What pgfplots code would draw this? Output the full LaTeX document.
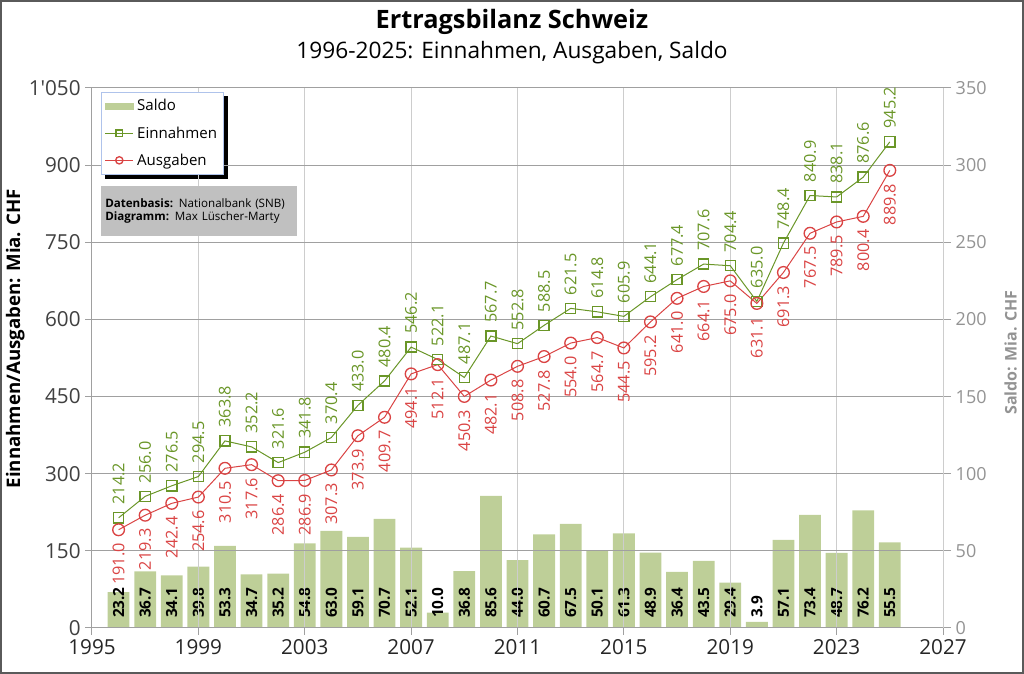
\documentclass[border=0pt]{standalone}
\usepackage{fontspec}
\setmainfont{Open Sans}
\usepackage{pgfplots}
\pgfplotsset{compat=1.18}
\usepackage{pgfplotstable}
\usetikzlibrary{backgrounds}
\definecolor{einc}{RGB}{106,150,40}
\definecolor{ausc}{RGB}{218,68,68}
\definecolor{barc}{RGB}{190,207,152}
\definecolor{gridh}{RGB}{160,160,160}
\definecolor{gridv}{RGB}{205,205,205}
\definecolor{infoc}{RGB}{192,192,192}
\definecolor{legb}{RGB}{175,195,235}
\definecolor{framec}{RGB}{90,90,90}
\newcommand{\fs}[1]{\fontsize{#1}{#1}\selectfont}
\pgfplotstableread{
year ein aus saldo
1996 214.2 191.0 23.2
1997 256.0 219.3 36.7
1998 276.5 242.4 34.1
1999 294.5 254.6 39.8
2000 363.8 310.5 53.3
2001 352.2 317.6 34.7
2002 321.6 286.4 35.2
2003 341.8 286.9 54.8
2004 370.4 307.3 63.0
2005 433.0 373.9 59.1
2006 480.4 409.7 70.7
2007 546.2 494.1 52.1
2008 522.1 512.1 10.0
2009 487.1 450.3 36.8
2010 567.7 482.1 85.6
2011 552.8 508.8 44.0
2012 588.5 527.8 60.7
2013 621.5 554.0 67.5
2014 614.8 564.7 50.1
2015 605.9 544.5 61.3
2016 644.1 595.2 48.9
2017 677.4 641.0 36.4
2018 707.6 664.1 43.5
2019 704.4 675.0 29.4
2020 635.0 631.1 3.9
2021 748.4 691.3 57.1
2022 840.9 767.5 73.4
2023 838.1 789.5 48.7
2024 876.6 800.4 76.2
2025 945.2 889.8 55.5
}\datatable
\pgfplotsset{
  lineleg/.style={legend image code/.code={%
    \draw[mark repeat=2,mark phase=2,##1, every mark/.append style={scale=0.62}]
      plot coordinates {(0cm,0cm) (0.37cm,0cm) (0.74cm,0cm)};}},
}
\begin{document}
\begin{tikzpicture}
\useasboundingbox (0,0) rectangle (768pt,505.5pt);
\draw[framec, line width=1.2pt] (0.75pt,0.75pt) rectangle (767.25pt,504.75pt);
% Saldo axis (right)
\begin{axis}[
  at={(69pt,34.5pt)}, anchor=south west, scale only axis,
  width=638.25pt, height=405pt,
  xmin=1995, xmax=2027, ymin=0, ymax=350,
  axis x line=none, axis y line*=right,
  ytick={0,50,...,350},
  y axis line style={draw=gridh, line width=0.75pt, -},
  ytick style={draw=gridh, line width=0.75pt},
  tick align=outside, major tick length=6pt,
  yticklabel style={font=\fs{13.5}, text=gray!85},
  /pgf/number format/assume math mode=true,
  clip=false,
]
\addplot[ybar, bar width=0.82, fill=barc, draw=none] table[x=year,y=saldo]{\datatable};
\addplot[draw=none, mark=none,
  nodes near coords={\pgfmathprintnumber[fixed,fixed zerofill,precision=1,assume math mode=true]{\pgfplotspointmeta}},
  point meta=explicit,
  every node near coord/.append style={rotate=90, anchor=west, text=black, font=\fs{11.5}\bfseries, outer xsep=6.5pt, inner sep=1pt}]
  table[x=year, y expr=0, meta=saldo]{\datatable};
\end{axis}
% Main axis (left)
\begin{axis}[
  at={(69pt,34.5pt)}, anchor=south west, scale only axis,
  width=638.25pt, height=405pt,
  xmin=1995, xmax=2027, ymin=0, ymax=1050,
  axis x line*=bottom, axis y line*=left,
  xtick={1995,1999,...,2027}, ytick={0,150,...,1050},
  xmajorgrids, ymajorgrids,
  x grid style={gridv, line width=0.75pt},
  y grid style={gridh, line width=0.75pt},
  axis line style={draw=gridh, line width=0.75pt, -},
  tick style={draw=gridh, line width=0.75pt},
  tick align=outside, major tick length=5pt,
  yticklabel style={font=\fs{15.5}, text=black!75, /pgf/number format/1000 sep={\textquotesingle}},
  xticklabel style={font=\fs{15.5}, text=black!85, /pgf/number format/set thousands separator={}},
  /pgf/number format/assume math mode=true,
  clip=false,
  legend style={name=leg, at={(0.0106,0.993)}, anchor=north west, font=\fs{11.3},
    draw=legb, fill=white, line width=0.6pt,
    row sep=6.2pt, inner xsep=2.5pt, inner ysep=3.5pt,
    nodes={inner xsep=2.5pt}},
  legend cell align=left,
]
\addlegendimage{legend image code/.code={\fill[barc] (0cm,-0.08cm) rectangle (0.74cm,0.08cm);}}
\addlegendentry{Saldo}
\addplot[einc, line width=0.75pt, mark=square, mark size=3.8pt, mark options={fill=white, line width=1pt, solid}, lineleg,
  nodes near coords={\pgfmathprintnumber[fixed,fixed zerofill,precision=1,assume math mode=true]{\pgfplotspointmeta}},
  point meta=explicit,
  every node near coord/.append style={rotate=90, anchor=west, text=einc, font=\fs{12.2}, outer xsep=9pt, inner sep=1pt}]
  table[x=year,y=ein,meta=ein]{\datatable};
\addlegendentry{Einnahmen}
\addplot[ausc, line width=0.75pt, mark=o, mark size=4.4pt, mark options={fill=white, line width=1pt, solid}, lineleg,
  nodes near coords={\pgfmathprintnumber[fixed,fixed zerofill,precision=1,assume math mode=true]{\pgfplotspointmeta}},
  point meta=explicit,
  every node near coord/.append style={rotate=90, anchor=east, text=ausc, font=\fs{12.2}, outer xsep=9pt, inner sep=1pt}]
  table[x=year,y=aus,meta=aus]{\datatable};
\addlegendentry{Ausgaben}
\end{axis}
\begin{pgfonlayer}{background}
\fill[black] ([xshift=3pt,yshift=-3pt]leg.south west) rectangle ([xshift=3pt,yshift=-3pt]leg.north east);
\end{pgfonlayer}
% info box
\node[anchor=north west, fill=infoc, minimum width=147pt, minimum height=37.5pt, text width=141pt, align=left,
  font=\fs{8.7}, inner xsep=3pt, inner ysep=3pt] at (75.75pt,366pt)
  {\textbf{Datenbasis:} Nationalbank (SNB)\\[1pt]\textbf{Diagramm:} Max Lüscher-Marty};
% titles
\node[font=\fs{19}\bfseries] at (384pt,489pt) {Ertragsbilanz Schweiz};
\node[font=\fs{17}] at (384pt,466pt) {1996-2025: Einnahmen, Ausgaben, Saldo};
% axis labels
\node[rotate=90, font=\fs{14}\bfseries] at (11.5pt,251.6pt) {Einnahmen/Ausgaben: Mia. CHF};
\node[rotate=90, font=\fs{12}\bfseries, text=gray!85] at (758pt,241.1pt) {Saldo: Mia. CHF};
\end{tikzpicture}
\end{document}
